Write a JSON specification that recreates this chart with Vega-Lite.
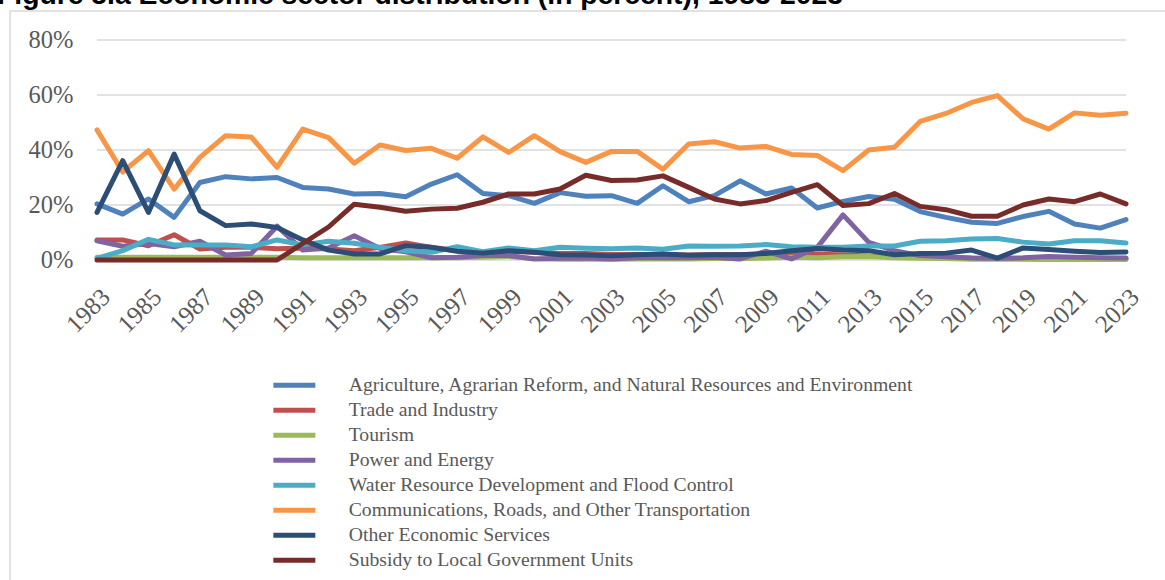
{
"$schema": "https://vega.github.io/schema/vega-lite/v6.json",
"width": 1165,
"height": 580,
"autosize": {"type": "none"},
"padding": {"left": 10, "top": 11, "right": 0, "bottom": 0},
"background": "white",
"title": {"text": "Figure 5.a Economic sector distribution (in percent), 1983-2023", "anchor": "start", "frame": "group", "orient": "top", "offset": -21, "baseline": "alphabetic", "dx": -13, "font": "Liberation Sans", "fontSize": 28.3, "fontWeight": "bold", "color": "#000000"},
"config": {"view": {"stroke": "#d9d9d9", "strokeWidth": 1.5}},
"datasets": {
"names": [
{"k": "a", "sector": "Agriculture, Agrarian Reform, and Natural Resources and Environment"},
{"k": "t", "sector": "Trade and Industry"},
{"k": "u", "sector": "Tourism"},
{"k": "p", "sector": "Power and Energy"},
{"k": "w", "sector": "Water Resource Development and Flood Control"},
{"k": "c", "sector": "Communications, Roads, and Other Transportation"},
{"k": "o", "sector": "Other Economic Services"},
{"k": "s", "sector": "Subsidy to Local Government Units"}
]
},
"layer": [
{
"data": {"values": [{"g": 0}, {"g": 20}, {"g": 40}, {"g": 60}, {"g": 80}]},
"mark": {"type": "rule", "color": "#d9d9d9", "strokeWidth": 1.5},
"encoding": {
"y": {"field": "g", "type": "quantitative", "scale": {"domain": [0, 80], "range": [249, 29], "nice": false, "zero": false}},
"x": {"datum": 1983, "type": "quantitative", "scale": {"domain": [1983, 2023], "range": [87, 1116], "nice": false, "zero": false}},
"x2": {"datum": 2023}
}
},
{
"data": {"values": [
{"y":1983,"k":"a","v":20.4},{"y":1984,"k":"a","v":16.7},{"y":1985,"k":"a","v":22.2},{"y":1986,"k":"a","v":15.5},{"y":1987,"k":"a","v":28.2},{"y":1988,"k":"a","v":30.3},{"y":1989,"k":"a","v":29.5},{"y":1990,"k":"a","v":30},{"y":1991,"k":"a","v":26.4},{"y":1992,"k":"a","v":25.8},{"y":1993,"k":"a","v":24},{"y":1994,"k":"a","v":24.2},{"y":1995,"k":"a","v":23},{"y":1996,"k":"a","v":27.6},{"y":1997,"k":"a","v":31},{"y":1998,"k":"a","v":24.2},{"y":1999,"k":"a","v":23.4},{"y":2000,"k":"a","v":20.6},{"y":2001,"k":"a","v":24.5},{"y":2002,"k":"a","v":23.2},{"y":2003,"k":"a","v":23.4},{"y":2004,"k":"a","v":20.6},{"y":2005,"k":"a","v":27},{"y":2006,"k":"a","v":21.2},{"y":2007,"k":"a","v":23.4},{"y":2008,"k":"a","v":28.8},{"y":2009,"k":"a","v":24},{"y":2010,"k":"a","v":26.2},{"y":2011,"k":"a","v":18.9},{"y":2012,"k":"a","v":21.3},{"y":2013,"k":"a","v":23.1},{"y":2014,"k":"a","v":22.1},{"y":2015,"k":"a","v":17.6},{"y":2016,"k":"a","v":15.5},{"y":2017,"k":"a","v":13.7},{"y":2018,"k":"a","v":13.3},{"y":2019,"k":"a","v":15.8},{"y":2020,"k":"a","v":17.7},{"y":2021,"k":"a","v":13.1},{"y":2022,"k":"a","v":11.6},{"y":2023,"k":"a","v":14.7},
{"y":1983,"k":"t","v":7.3},{"y":1984,"k":"t","v":7.3},{"y":1985,"k":"t","v":5.2},{"y":1986,"k":"t","v":9.2},{"y":1987,"k":"t","v":4.0},{"y":1988,"k":"t","v":4.6},{"y":1989,"k":"t","v":4.6},{"y":1990,"k":"t","v":4.1},{"y":1991,"k":"t","v":4.4},{"y":1992,"k":"t","v":4.0},{"y":1993,"k":"t","v":3.4},{"y":1994,"k":"t","v":4.6},{"y":1995,"k":"t","v":6.2},{"y":1996,"k":"t","v":4.6},{"y":1997,"k":"t","v":3.4},{"y":1998,"k":"t","v":2.8},{"y":1999,"k":"t","v":3.2},{"y":2000,"k":"t","v":2.8},{"y":2001,"k":"t","v":2.4},{"y":2002,"k":"t","v":2.4},{"y":2003,"k":"t","v":2.0},{"y":2004,"k":"t","v":2.0},{"y":2005,"k":"t","v":2.0},{"y":2006,"k":"t","v":1.8},{"y":2007,"k":"t","v":2.0},{"y":2008,"k":"t","v":2.0},{"y":2009,"k":"t","v":2.0},{"y":2010,"k":"t","v":2.2},{"y":2011,"k":"t","v":2.2},{"y":2012,"k":"t","v":1.8},{"y":2013,"k":"t","v":1.5},{"y":2014,"k":"t","v":1.2},{"y":2015,"k":"t","v":1.0},{"y":2016,"k":"t","v":0.8},{"y":2017,"k":"t","v":0.6},{"y":2018,"k":"t","v":0.5},{"y":2019,"k":"t","v":0.5},{"y":2020,"k":"t","v":0.5},{"y":2021,"k":"t","v":0.5},{"y":2022,"k":"t","v":0.5},{"y":2023,"k":"t","v":0.5},
{"y":1983,"k":"u","v":1.0},{"y":1984,"k":"u","v":1.0},{"y":1985,"k":"u","v":1.0},{"y":1986,"k":"u","v":1.0},{"y":1987,"k":"u","v":1.0},{"y":1988,"k":"u","v":1.0},{"y":1989,"k":"u","v":1.0},{"y":1990,"k":"u","v":1.0},{"y":1991,"k":"u","v":0.8},{"y":1992,"k":"u","v":0.8},{"y":1993,"k":"u","v":0.8},{"y":1994,"k":"u","v":0.8},{"y":1995,"k":"u","v":0.8},{"y":1996,"k":"u","v":0.8},{"y":1997,"k":"u","v":0.8},{"y":1998,"k":"u","v":1.0},{"y":1999,"k":"u","v":1.3},{"y":2000,"k":"u","v":0.5},{"y":2001,"k":"u","v":0.3},{"y":2002,"k":"u","v":0.3},{"y":2003,"k":"u","v":0.3},{"y":2004,"k":"u","v":0.4},{"y":2005,"k":"u","v":0.4},{"y":2006,"k":"u","v":0.4},{"y":2007,"k":"u","v":0.5},{"y":2008,"k":"u","v":0.5},{"y":2009,"k":"u","v":0.7},{"y":2010,"k":"u","v":1.0},{"y":2011,"k":"u","v":0.8},{"y":2012,"k":"u","v":1.2},{"y":2013,"k":"u","v":1.3},{"y":2014,"k":"u","v":0.8},{"y":2015,"k":"u","v":0.6},{"y":2016,"k":"u","v":0.5},{"y":2017,"k":"u","v":0.3},{"y":2018,"k":"u","v":0.3},{"y":2019,"k":"u","v":0.3},{"y":2020,"k":"u","v":0.2},{"y":2021,"k":"u","v":0.2},{"y":2022,"k":"u","v":0.2},{"y":2023,"k":"u","v":0.2},
{"y":1983,"k":"p","v":7.0},{"y":1984,"k":"p","v":5.0},{"y":1985,"k":"p","v":6.0},{"y":1986,"k":"p","v":4.8},{"y":1987,"k":"p","v":6.8},{"y":1988,"k":"p","v":1.8},{"y":1989,"k":"p","v":2.4},{"y":1990,"k":"p","v":12.3},{"y":1991,"k":"p","v":3.6},{"y":1992,"k":"p","v":4.4},{"y":1993,"k":"p","v":8.8},{"y":1994,"k":"p","v":4.2},{"y":1995,"k":"p","v":3.0},{"y":1996,"k":"p","v":0.8},{"y":1997,"k":"p","v":1.0},{"y":1998,"k":"p","v":1.6},{"y":1999,"k":"p","v":1.6},{"y":2000,"k":"p","v":0.4},{"y":2001,"k":"p","v":0.6},{"y":2002,"k":"p","v":0.7},{"y":2003,"k":"p","v":0.4},{"y":2004,"k":"p","v":0.8},{"y":2005,"k":"p","v":0.8},{"y":2006,"k":"p","v":0.8},{"y":2007,"k":"p","v":1.0},{"y":2008,"k":"p","v":0.4},{"y":2009,"k":"p","v":3.2},{"y":2010,"k":"p","v":0.4},{"y":2011,"k":"p","v":4.6},{"y":2012,"k":"p","v":16.4},{"y":2013,"k":"p","v":6.4},{"y":2014,"k":"p","v":3.4},{"y":2015,"k":"p","v":1.6},{"y":2016,"k":"p","v":1.2},{"y":2017,"k":"p","v":0.7},{"y":2018,"k":"p","v":0.6},{"y":2019,"k":"p","v":0.8},{"y":2020,"k":"p","v":1.3},{"y":2021,"k":"p","v":1.0},{"y":2022,"k":"p","v":0.8},{"y":2023,"k":"p","v":0.7},
{"y":1983,"k":"w","v":0.6},{"y":1984,"k":"w","v":3.4},{"y":1985,"k":"w","v":7.5},{"y":1986,"k":"w","v":5.5},{"y":1987,"k":"w","v":5.5},{"y":1988,"k":"w","v":5.5},{"y":1989,"k":"w","v":4.8},{"y":1990,"k":"w","v":7.3},{"y":1991,"k":"w","v":5.5},{"y":1992,"k":"w","v":6.8},{"y":1993,"k":"w","v":6.1},{"y":1994,"k":"w","v":4.6},{"y":1995,"k":"w","v":3.4},{"y":1996,"k":"w","v":2.8},{"y":1997,"k":"w","v":4.8},{"y":1998,"k":"w","v":3.0},{"y":1999,"k":"w","v":4.4},{"y":2000,"k":"w","v":3.4},{"y":2001,"k":"w","v":4.6},{"y":2002,"k":"w","v":4.3},{"y":2003,"k":"w","v":4.1},{"y":2004,"k":"w","v":4.4},{"y":2005,"k":"w","v":3.9},{"y":2006,"k":"w","v":5.1},{"y":2007,"k":"w","v":5.0},{"y":2008,"k":"w","v":5.1},{"y":2009,"k":"w","v":5.6},{"y":2010,"k":"w","v":4.8},{"y":2011,"k":"w","v":4.6},{"y":2012,"k":"w","v":4.6},{"y":2013,"k":"w","v":5.1},{"y":2014,"k":"w","v":5.1},{"y":2015,"k":"w","v":6.8},{"y":2016,"k":"w","v":7.0},{"y":2017,"k":"w","v":7.6},{"y":2018,"k":"w","v":7.8},{"y":2019,"k":"w","v":6.5},{"y":2020,"k":"w","v":5.8},{"y":2021,"k":"w","v":7.0},{"y":2022,"k":"w","v":7.0},{"y":2023,"k":"w","v":6.2},
{"y":1983,"k":"c","v":47.3},{"y":1984,"k":"c","v":32},{"y":1985,"k":"c","v":39.8},{"y":1986,"k":"c","v":25.8},{"y":1987,"k":"c","v":37.3},{"y":1988,"k":"c","v":45.2},{"y":1989,"k":"c","v":44.7},{"y":1990,"k":"c","v":33.7},{"y":1991,"k":"c","v":47.6},{"y":1992,"k":"c","v":44.5},{"y":1993,"k":"c","v":35.2},{"y":1994,"k":"c","v":41.8},{"y":1995,"k":"c","v":39.8},{"y":1996,"k":"c","v":40.6},{"y":1997,"k":"c","v":37},{"y":1998,"k":"c","v":44.8},{"y":1999,"k":"c","v":39.1},{"y":2000,"k":"c","v":45.2},{"y":2001,"k":"c","v":39.4},{"y":2002,"k":"c","v":35.5},{"y":2003,"k":"c","v":39.5},{"y":2004,"k":"c","v":39.5},{"y":2005,"k":"c","v":33},{"y":2006,"k":"c","v":42.2},{"y":2007,"k":"c","v":43},{"y":2008,"k":"c","v":40.7},{"y":2009,"k":"c","v":41.3},{"y":2010,"k":"c","v":38.4},{"y":2011,"k":"c","v":38},{"y":2012,"k":"c","v":32.5},{"y":2013,"k":"c","v":40},{"y":2014,"k":"c","v":41},{"y":2015,"k":"c","v":50.4},{"y":2016,"k":"c","v":53.3},{"y":2017,"k":"c","v":57.3},{"y":2018,"k":"c","v":59.8},{"y":2019,"k":"c","v":51.3},{"y":2020,"k":"c","v":47.6},{"y":2021,"k":"c","v":53.5},{"y":2022,"k":"c","v":52.6},{"y":2023,"k":"c","v":53.4},
{"y":1983,"k":"o","v":17.3},{"y":1984,"k":"o","v":36.1},{"y":1985,"k":"o","v":17.3},{"y":1986,"k":"o","v":38.5},{"y":1987,"k":"o","v":17.9},{"y":1988,"k":"o","v":12.5},{"y":1989,"k":"o","v":13.1},{"y":1990,"k":"o","v":11.8},{"y":1991,"k":"o","v":7.3},{"y":1992,"k":"o","v":3.6},{"y":1993,"k":"o","v":2.2},{"y":1994,"k":"o","v":2.2},{"y":1995,"k":"o","v":5.2},{"y":1996,"k":"o","v":4.6},{"y":1997,"k":"o","v":3.2},{"y":1998,"k":"o","v":2.5},{"y":1999,"k":"o","v":3.4},{"y":2000,"k":"o","v":2.8},{"y":2001,"k":"o","v":1.9},{"y":2002,"k":"o","v":1.8},{"y":2003,"k":"o","v":1.5},{"y":2004,"k":"o","v":1.9},{"y":2005,"k":"o","v":2.2},{"y":2006,"k":"o","v":1.7},{"y":2007,"k":"o","v":1.9},{"y":2008,"k":"o","v":1.9},{"y":2009,"k":"o","v":2.4},{"y":2010,"k":"o","v":3.4},{"y":2011,"k":"o","v":4.2},{"y":2012,"k":"o","v":3.6},{"y":2013,"k":"o","v":3.4},{"y":2014,"k":"o","v":1.9},{"y":2015,"k":"o","v":2.4},{"y":2016,"k":"o","v":2.5},{"y":2017,"k":"o","v":3.6},{"y":2018,"k":"o","v":0.7},{"y":2019,"k":"o","v":4.4},{"y":2020,"k":"o","v":3.8},{"y":2021,"k":"o","v":3.2},{"y":2022,"k":"o","v":2.7},{"y":2023,"k":"o","v":2.9},
{"y":1983,"k":"s","v":0},{"y":1984,"k":"s","v":0},{"y":1985,"k":"s","v":0},{"y":1986,"k":"s","v":0},{"y":1987,"k":"s","v":0},{"y":1988,"k":"s","v":0},{"y":1989,"k":"s","v":0},{"y":1990,"k":"s","v":0},{"y":1991,"k":"s","v":6.0},{"y":1992,"k":"s","v":12.0},{"y":1993,"k":"s","v":20.3},{"y":1994,"k":"s","v":19.2},{"y":1995,"k":"s","v":17.7},{"y":1996,"k":"s","v":18.5},{"y":1997,"k":"s","v":18.8},{"y":1998,"k":"s","v":21},{"y":1999,"k":"s","v":24},{"y":2000,"k":"s","v":24},{"y":2001,"k":"s","v":25.8},{"y":2002,"k":"s","v":30.8},{"y":2003,"k":"s","v":28.9},{"y":2004,"k":"s","v":29.1},{"y":2005,"k":"s","v":30.6},{"y":2006,"k":"s","v":26.4},{"y":2007,"k":"s","v":22.2},{"y":2008,"k":"s","v":20.4},{"y":2009,"k":"s","v":21.6},{"y":2010,"k":"s","v":24.6},{"y":2011,"k":"s","v":27.4},{"y":2012,"k":"s","v":19.8},{"y":2013,"k":"s","v":20.5},{"y":2014,"k":"s","v":24.2},{"y":2015,"k":"s","v":19.5},{"y":2016,"k":"s","v":18.3},{"y":2017,"k":"s","v":15.9},{"y":2018,"k":"s","v":15.9},{"y":2019,"k":"s","v":20},{"y":2020,"k":"s","v":22.2},{"y":2021,"k":"s","v":21.2},{"y":2022,"k":"s","v":24},{"y":2023,"k":"s","v":20.4}
]},
"transform": [{"lookup": "k", "from": {"data": {"name": "names"}, "key": "k", "fields": ["sector"]}}],
"mark": {"type": "line", "strokeWidth": 5, "strokeJoin": "round", "strokeCap": "round"},
"encoding": {
"x": {"field": "y", "type": "quantitative", "scale": {"domain": [1983, 2023], "range": [87, 1116], "nice": false, "zero": false},
"axis": {"orient": "bottom", "offset": -331, "values": [1983,1985,1987,1989,1991,1993,1995,1997,1999,2001,2003,2005,2007,2009,2011,2013,2015,2017,2019,2021,2023], "format": "d", "labelAngle": -45, "labelFlush": false, "labelOverlap": false, "domain": false, "ticks": false, "grid": false, "labelPadding": 24, "labelFont": "Liberation Serif", "labelFontSize": 25, "labelColor": "#595959", "title": null}},
"y": {"field": "v", "type": "quantitative", "scale": {"domain": [0, 80], "range": [249, 29], "nice": false, "zero": false},
"axis": {"orient": "left", "offset": -87, "values": [0, 20, 40, 60, 80], "labelExpr": "datum.value + '%'", "domain": false, "ticks": false, "grid": false, "labelPadding": 24, "labelFont": "Liberation Serif", "labelFontSize": 24.5, "labelColor": "#595959", "title": null}},
"color": {"field": "sector", "type": "nominal",
"scale": {"domain": ["Agriculture, Agrarian Reform, and Natural Resources and Environment", "Trade and Industry", "Tourism", "Power and Energy", "Water Resource Development and Flood Control", "Communications, Roads, and Other Transportation", "Other Economic Services", "Subsidy to Local Government Units"],
"range": ["#4F81BD", "#C0504D", "#9BBB59", "#8064A2", "#4BACC6", "#F79646", "#2C4D75", "#772C2A"]},
"legend": {"orient": "none", "legendX": 274.5, "legendY": 364.5, "title": null, "padding": 0, "symbolType": "M-3,0H3", "symbolSize": 196, "symbolStrokeWidth": 5, "symbolOffset": 0, "labelOffset": 44.5, "rowPadding": 4, "labelFont": "Liberation Serif", "labelFontSize": 19.7, "labelColor": "#595959", "labelLimit": 0}}
}
}
]
}
